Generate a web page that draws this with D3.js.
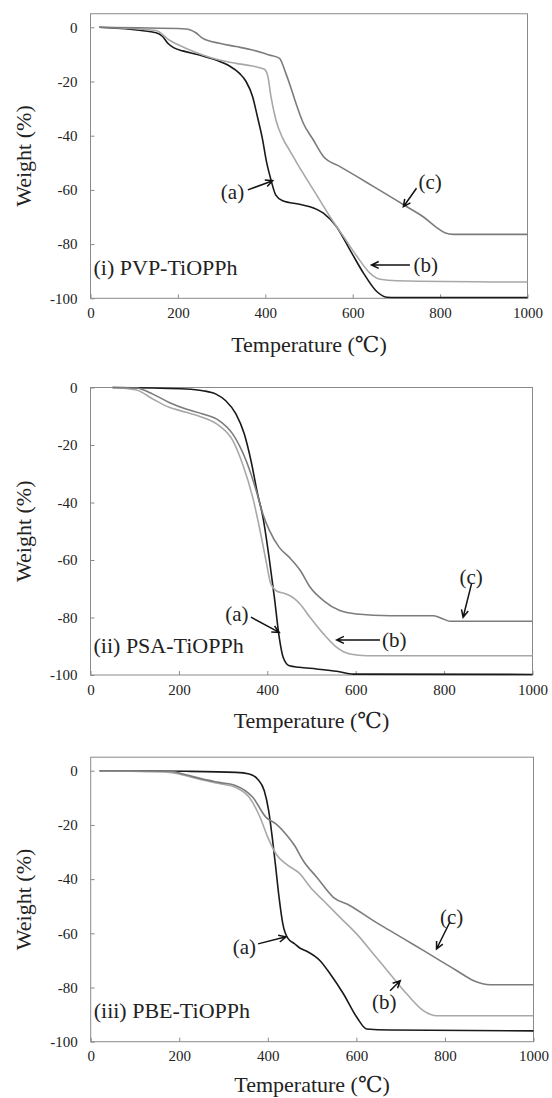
<!DOCTYPE html>
<html><head><meta charset="utf-8">
<script src="https://cdn.jsdelivr.net/npm/d3@7"></script>
<style>
body{margin:0;background:#fff}
svg{display:block}
svg text{font-family:"Liberation Serif","Tinos","DejaVu Serif","Noto Sans CJK SC",serif;fill:#222}
</style>
</head><body><svg id="c" width="552" height="1098"></svg>
<script>
// ---- data: [temperature (°C), weight change (%)] ----
const pvpA = [[20,0],[150,-2],[165,-3.4],[177,-5.9],[190,-7.5],[211,-8.7],[249,-10.2],[287,-12.1],[318,-14.3],[341,-17],[356,-20],[371,-25.6],[382,-33],[394,-41.6],[402,-49],[413,-56.3],[424,-61.9],[440,-64],[478,-65.3],[502,-66.2],[533,-68.6],[563,-73.6],[594,-82.2],[625,-90.8],[655,-97.5],[678,-99.6],[700,-99.7],[1000,-99.7]];
const pvpB = [[20,0],[150,-1.2],[180,-4.7],[218,-7.7],[257,-10.2],[295,-12.1],[333,-13.3],[371,-14.3],[398,-15.5],[406,-18.2],[413,-25.6],[424,-34],[440,-41],[456,-45.5],[472,-50],[487,-54],[518,-62],[548,-69.9],[579,-77.2],[610,-84.6],[640,-90.8],[663,-93],[701,-93.5],[1000,-94]];
const pvpC = [[20,0],[218,-0.6],[241,-2],[257,-4.1],[295,-5.9],[333,-7.1],[371,-8.4],[409,-10.2],[432,-11.4],[447,-17],[458,-22],[468,-27],[487,-35.4],[510,-41.6],[533,-47.7],[571,-51.4],[610,-55.1],[648,-58.8],[686,-62.5],[724,-66.2],[762,-70],[793,-74],[812,-75.9],[830,-76.4],[1000,-76.4]];

const psaA = [[50,0],[141,-0.2],[216,-0.5],[254,-1.1],[284,-2.3],[306,-4.6],[329,-9.2],[348,-16.2],[363,-25.4],[378,-37],[390,-45],[405,-60.2],[416,-73],[427,-86.9],[436,-93.9],[450,-96.8],[472,-97.3],[511,-97.9],[557,-98.7],[595,-99.7],[1000,-99.8]];
const psaB = [[50,0],[104,-0.9],[141,-4],[178,-6.9],[216,-8.6],[254,-10.4],[291,-13.3],[322,-18.5],[344,-26.6],[367,-38.2],[382,-48.6],[397,-60.2],[408,-68.3],[420,-70.7],[442,-71.8],[462,-73.5],[474,-75.3],[497,-80],[527,-85.7],[557,-90.4],[587,-92.7],[625,-93.3],[1000,-93.3]];
const psaC = [[50,0],[104,-0.2],[141,-2.3],[178,-5.2],[216,-7.5],[254,-9.2],[291,-11.5],[322,-16.2],[352,-25.4],[375,-35.9],[390,-44],[405,-49.8],[427,-55.6],[450,-59.1],[474,-63.5],[497,-69.5],[527,-74.1],[564,-77.6],[602,-78.8],[678,-79.4],[776,-79.4],[798,-80.5],[813,-81.3],[1000,-81.3]];

const pbeA = [[20,0],[215,-0.2],[328,-0.6],[358,-1.2],[377,-3.1],[392,-7.4],[402,-14.8],[410,-24.6],[417,-34.4],[424.5,-45.5],[434,-56.6],[445,-61.8],[460,-63.8],[473,-65.5],[488,-66.6],[518,-70.1],[541,-75],[571,-82.4],[601,-91],[623,-95.3],[676,-95.7],[1000,-96]];
const pbeB = [[20,0],[178,-0.6],[215,-1.8],[253,-3.4],[290,-4.7],[328,-6.2],[358,-9.8],[381,-16.6],[400,-24.6],[419,-30.8],[441,-34.4],[473,-38.1],[496,-43],[526,-48],[563,-54.1],[601,-60.3],[639,-67.7],[676,-75],[714,-82.4],[752,-88.6],[782,-90.4],[1000,-90.4]];
const pbeC = [[20,0],[178,-0.2],[215,-1.5],[253,-3.1],[290,-4.3],[328,-5.5],[366,-9.8],[396,-17.2],[419,-19.7],[441,-23.4],[460,-27.5],[480,-33.2],[511,-39.4],[548,-46.7],[586,-49.8],[639,-55.4],[676,-59],[714,-62.7],[752,-66.4],[789,-70.1],[827,-73.8],[865,-77.5],[902,-79],[1000,-79]];

const xTicks = [0,200,400,600,800,1000];
const yTicks = [0,-20,-40,-60,-80,-100];
const panelTitles = ["(i) PVP-TiOPPh","(ii) PSA-TiOPPh","(iii) PBE-TiOPPh"];
const xTitle = "Temperature (\u2103)";
const yTitle = "Weight (%)";

// annotation anchors in data units: label, label centre T, W, arrow start T, W, arrow tip T, W
const pvpNotes = [["(a)",325,-60.7,360,-60,417,-56.6],["(b)",767,-87.7,731,-87.7,643,-87.7],["(c)",777,-57,746,-59.4,716,-66.2]];
const psaNotes = [["(a)",331,-78.8,363,-79.9,427,-85.2],["(b)",687,-87.8,655,-87.8,557,-87.8],["(c)",861,-66,862,-68.3,843,-79.9]];
const pbeNotes = [["(a)",347,-65.2,378,-63.9,441,-61.3],["(b)",663,-85.5,676,-81.2,699,-77.5],["(c)",815,-54.1,811,-55.9,781,-65.8]];

// ---- layout ----
const colors = ["#1a1a1a","#a8a8a8","#7c7c7c"];
const panels = [
  {title:panelTitles[0], series:[pvpA,pvpB,pvpC], notes:pvpNotes, l:90.5, r:527.5, t:13.75, b:298.3, yMax:5, labelW:-91.4, xt:46},
  {title:panelTitles[1], series:[psaA,psaB,psaC], notes:psaNotes, l:90.5, r:532.5, t:387.5, b:675, yMax:0, labelW:-92.5, xt:45},
  {title:panelTitles[2], series:[pbeA,pbeB,pbeC], notes:pbeNotes, l:90.7, r:533.5, t:757.2, b:1041.7, yMax:5, labelW:-91.4, xt:43}
];

const svg = d3.select("#c");
panels.forEach(p => {
  const x = d3.scaleLinear().domain([0,1000]).range([p.l,p.r]);
  const y = d3.scaleLinear().domain([-100,p.yMax]).range([p.b,p.t]);
  const g = svg.append("g");

  const ax = g.append("g").attr("transform",`translate(0,${p.b})`)
    .call(d3.axisBottom(x).tickValues(xTicks).tickSize(-4).tickPadding(9).tickFormat(d3.format("d")));
  const ay = g.append("g").attr("transform",`translate(${p.l},0)`)
    .call(d3.axisLeft(y).tickValues(yTicks).tickSize(-4).tickPadding(13).tickFormat(d => String(d)));
  [ax,ay].forEach(a => {
    a.attr("font-family",null).attr("font-size",null);
    a.select(".domain").remove();
    a.selectAll("line").attr("stroke","#8a8a8a");
    a.selectAll("text").attr("font-size",15).attr("fill","#222");
  });

  g.append("rect").attr("x",p.l).attr("y",p.t).attr("width",p.r-p.l).attr("height",p.b-p.t)
    .attr("fill","none").attr("stroke","#8a8a8a").attr("stroke-width",1);

  const line = d3.line().x(d=>x(d[0])).y(d=>y(d[1])).curve(d3.curveMonotoneX);
  p.series.forEach((s,i) => {
    g.append("path").datum(s).attr("d",line).attr("fill","none")
      .attr("stroke",colors[i]).attr("stroke-width",1.6).attr("stroke-linejoin","round");
  });

  p.notes.forEach(n => {
    g.append("text").attr("x",x(n[1])).attr("y",y(n[2])).attr("text-anchor","middle")
      .attr("dominant-baseline","central").attr("font-size",21).text(n[0]);
    const x1=x(n[3]), y1=y(n[4]), x2=x(n[5]), y2=y(n[6]);
    const ang = Math.atan2(y2-y1,x2-x1), h=8, w=0.45;
    g.append("path").attr("d",`M${x1},${y1}L${x2},${y2}M${x2-h*Math.cos(ang-w)},${y2-h*Math.sin(ang-w)}L${x2},${y2}L${x2-h*Math.cos(ang+w)},${y2-h*Math.sin(ang+w)}`)
      .attr("fill","none").attr("stroke","#111").attr("stroke-width",1.5);
  });

  g.append("text").attr("x",p.l+3).attr("y",y(p.labelW)).attr("font-size",22).text(p.title);

  g.append("text").attr("x",(p.l+p.r)/2).attr("y",p.b+p.xt).attr("text-anchor","middle")
    .attr("dominant-baseline","central").attr("font-size",22).text(xTitle);
  g.append("text").attr("transform",`translate(23,${(p.t+p.b)/2}) rotate(-90)`)
    .attr("text-anchor","middle").attr("dominant-baseline","central")
    .attr("font-size",22).text(yTitle);
});
</script></body></html>
